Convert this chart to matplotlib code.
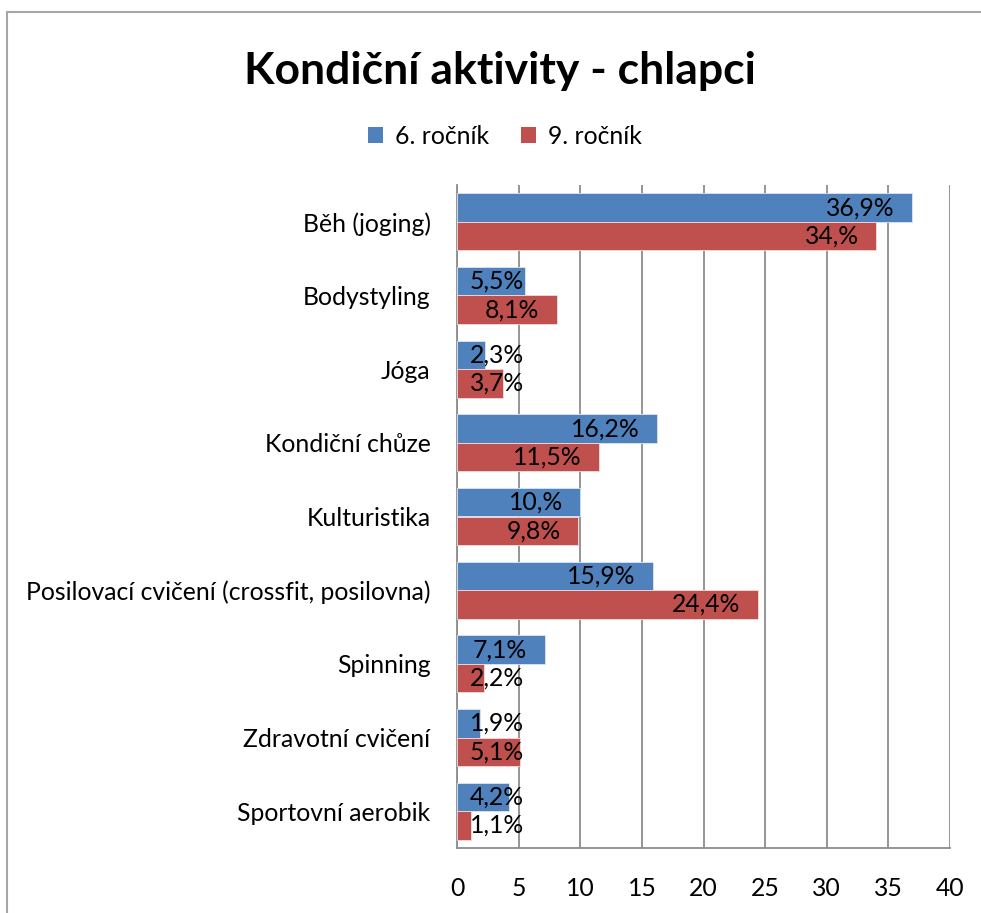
import matplotlib
matplotlib.use("Agg")
import matplotlib.pyplot as plt
from matplotlib.lines import Line2D
from matplotlib.patches import Patch
import numpy as np

categories = ["Běh (joging)", "Bodystyling", "Jóga", "Kondiční chůze", "Kulturistika",
              "Posilovací cvičení (crossfit, posilovna)", "Spinning", "Zdravotní cvičení",
              "Sportovní aerobik"]
grade6 = [36.9, 5.5, 2.3, 16.2, 10.0, 15.9, 7.1, 1.9, 4.2]
grade9 = [34.0, 8.1, 3.7, 11.5, 9.8, 24.4, 2.2, 5.1, 1.1]
labels6 = ["36,9%", "5,5%", "2,3%", "16,2%", "10,%", "15,9%", "7,1%", "1,9%", "4,2%"]
labels9 = ["34,%", "8,1%", "3,7%", "11,5%", "9,8%", "24,4%", "2,2%", "5,1%", "1,1%"]
series_names = ["6. ročník", "9. ročník"]

BLUE = "#4F81BD"
RED = "#C0504D"
GRID = "#8C8C8C"
FONT = "Lato"
FS = 17.8

W, H = 981, 913
fig = plt.figure(figsize=(W / 100, H / 100), dpi=100)

# chart frame: only its left and top edges are inside the crop
fx, fy = 7 / W, 1 - 12 / H
fig.lines.append(Line2D([fx, fx, 1.1], [-0.1, fy, fy], transform=fig.transFigure,
                        color="#A6A6A6", lw=1.5, solid_joinstyle="miter"))

ax = fig.add_axes([457 / W, 1 - 848 / H, (950 - 457) / W, (848 - 185) / H])

y = np.arange(len(categories))
h = 0.385
ax.barh(y - h / 2, grade6, height=h, color=BLUE, edgecolor="#DCE6F2", lw=0.6, zorder=3)
ax.barh(y + h / 2, grade9, height=h, color=RED, edgecolor="#F2DCDB", lw=0.6, zorder=3)

# data labels: inside end, but never further left than the minimum
for vals, labs, off in [(grade6, labels6, -h / 2), (grade9, labels9, h / 2)]:
    for i, (v, lab) in enumerate(zip(vals, labs)):
        xr = max(v - 1.4, 5.45)
        ax.text(xr, i + off, lab, ha="right", va="center", fontsize=FS,
                family=FONT, color="black", zorder=4)

ax.set_xlim(0, 40)
ax.set_ylim(len(categories) - 0.5, -0.5)
ax.set_xticks(np.arange(0, 41, 5))
ax.set_yticks(y)
ax.set_yticklabels(categories, family=FONT, fontsize=FS)
for t in ax.get_xticklabels():
    t.set_family(FONT)
    t.set_fontsize(FS)
ax.tick_params(axis="both", length=0)
ax.tick_params(axis="y", pad=19)
ax.tick_params(axis="x", pad=21)
ax.xaxis.grid(True, color=GRID, lw=1.3, zorder=0)
ax.set_axisbelow(True)
for s in ["top", "right"]:
    ax.spines[s].set_visible(False)
for s in ["left", "bottom"]:
    ax.spines[s].set_color(GRID)
    ax.spines[s].set_linewidth(1.3)

fig.text(500 / W, 1 - 71 / H, "Kondiční aktivity - chlapci", ha="center", va="center",
         family=FONT, fontweight="bold", fontsize=32)

handles = [Patch(facecolor=BLUE), Patch(facecolor=RED)]
fig.legend(handles, series_names, loc="center", bbox_to_anchor=(505 / W, 1 - 136 / H),
           ncol=2, frameon=False, prop={"family": FONT, "size": FS},
           handlelength=0.6, handleheight=0.6, handletextpad=0.5, columnspacing=1.3)

fig.savefig("out.png", dpi=100)
